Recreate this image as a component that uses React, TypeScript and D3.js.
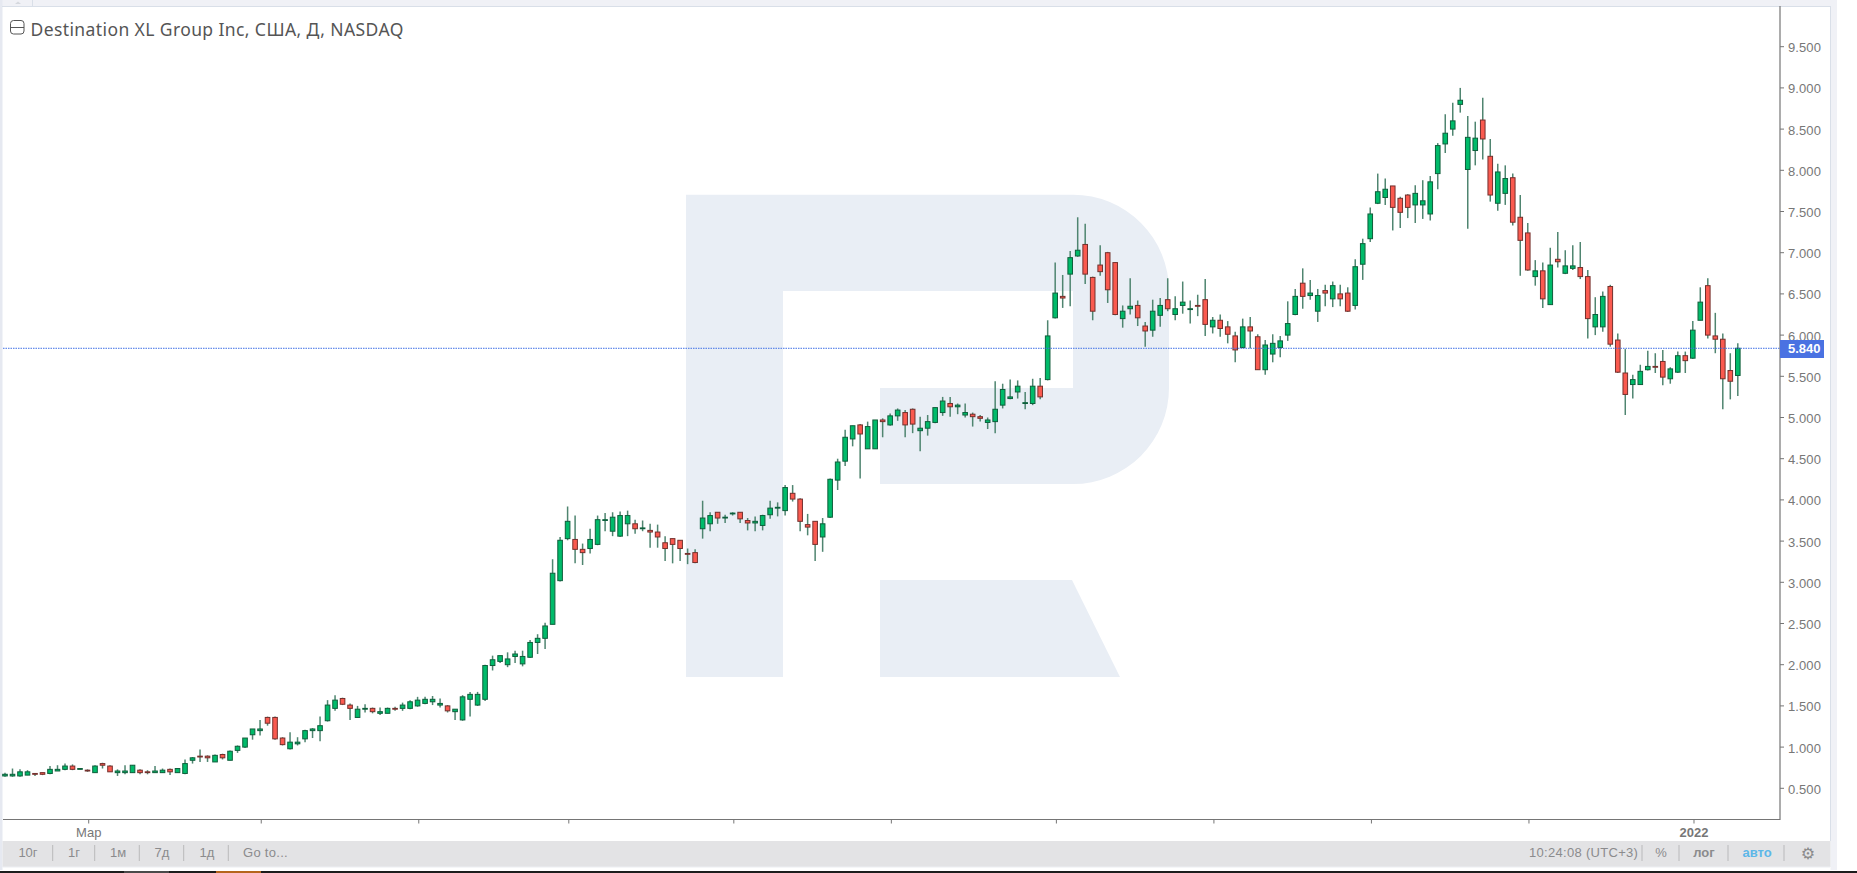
import React from 'react';
import * as d3 from 'd3';

const opens = [
  .65,.65,.65,.66,.68,.69,.68,.71,.73,.77,
  .73,.72,.69,.80,.77,.69,.69,.69,.72,.70,
  .69,.69,.73,.69,.68,.84,.89,.89,.82,.91,
  .84,.96,1.00,1.15,1.20,1.36,1.36,1.11,.98,1.04,
  1.10,1.20,1.20,1.32,1.47,1.59,1.51,1.36,1.46,1.47,
  1.41,1.41,1.47,1.47,1.47,1.50,1.53,1.55,1.51,1.50,
  1.43,1.33,1.58,1.51,1.58,1.99,2.04,2.00,2.10,2.01,
  2.09,2.27,2.32,2.49,3.02,3.53,3.52,3.40,3.41,3.46,
  3.75,3.62,3.56,3.71,3.71,3.65,3.63,3.61,3.48,3.53,
  3.51,3.35,3.36,3.65,3.71,3.85,3.78,3.83,3.85,3.75,
  3.72,3.69,3.82,3.90,3.87,4.08,4.01,3.70,3.74,3.55,
  3.79,4.24,4.47,4.74,4.91,4.62,4.62,4.97,4.91,5.02,
  5.06,5.10,4.84,4.87,4.94,5.06,5.17,5.13,5.03,5.04,
  5.01,4.94,4.95,5.15,5.23,5.31,5.17,5.17,5.38,5.46,
  6.21,6.47,6.74,6.96,7.10,6.70,6.85,7.00,6.88,6.20,
  6.32,6.36,6.11,6.06,6.24,6.43,6.25,6.36,6.31,6.36,
  6.43,6.10,6.18,6.10,5.99,5.85,6.10,5.98,5.58,5.77,
  5.85,6.00,6.25,6.63,6.48,6.29,6.54,6.44,6.50,6.51,
  6.36,6.86,7.17,7.60,7.67,7.81,7.66,7.70,7.58,7.58,
  7.47,7.96,8.32,8.50,8.80,8.01,8.24,8.61,8.17,7.60,
  7.72,7.91,7.43,7.24,6.71,6.78,6.37,6.92,6.75,6.81,
  6.82,6.71,6.10,6.10,6.59,5.94,5.54,5.40,5.40,5.58,
  5.62,5.68,5.47,5.55,5.75,5.72,6.18,6.60,5.99,5.95,
  5.57,5.51,
];

const highs = [
  .69,.74,.73,.72,.68,.69,.77,.78,.80,.79,
  .74,.73,.78,.81,.78,.73,.78,.78,.73,.72,
  .77,.74,.74,.74,.85,.88,.97,.90,.91,.92,
  .96,1.02,1.11,1.22,1.33,1.37,1.37,1.12,1.18,1.12,
  1.21,1.23,1.37,1.57,1.63,1.60,1.53,1.50,1.52,1.48,
  1.48,1.48,1.49,1.54,1.57,1.61,1.61,1.62,1.59,1.51,
  1.46,1.63,1.67,1.67,2.00,2.11,2.11,2.15,2.17,2.17,
  2.30,2.37,2.51,3.28,3.55,3.92,3.81,3.47,3.65,3.81,
  3.84,3.85,3.86,3.87,3.76,3.75,3.71,3.70,3.56,3.53,
  3.51,3.41,3.40,3.99,3.85,3.85,3.82,3.85,3.85,3.78,
  3.80,3.82,3.99,3.97,4.18,4.18,4.02,3.83,3.74,3.78,
  4.26,4.50,4.85,4.90,4.92,4.95,4.97,4.99,5.05,5.11,
  5.09,5.11,5.01,5.03,5.12,5.25,5.25,5.17,5.17,5.06,
  5.03,5.00,5.44,5.41,5.46,5.45,5.31,5.47,5.48,6.18,
  6.88,6.73,7.02,7.43,7.35,6.71,7.09,7.01,6.88,6.36,
  6.69,6.42,6.16,6.43,6.45,6.69,6.47,6.65,6.42,6.49,
  6.68,6.22,6.25,6.17,6.04,6.20,6.22,6.01,5.94,6.01,
  5.99,6.41,6.56,6.81,6.67,6.56,6.61,6.65,6.61,6.58,
  6.92,7.17,7.55,7.96,7.90,7.81,7.68,7.71,7.82,7.88,
  7.93,8.33,8.68,8.82,9.00,8.66,8.59,8.88,8.38,8.08,
  8.06,7.96,7.70,7.36,6.91,6.88,7.06,7.25,7.03,7.09,
  7.13,6.79,6.46,6.53,6.61,6.02,5.83,5.52,5.64,5.81,
  5.78,5.82,5.61,5.80,5.80,6.17,6.58,6.69,6.27,6.02,
  5.78,5.90,
];

const lows = [
  .64,.64,.64,.66,.65,.66,.67,.71,.72,.72,
  .73,.70,.69,.74,.70,.65,.67,.69,.67,.67,
  .69,.69,.66,.69,.67,.80,.82,.82,.82,.85,
  .84,.93,.99,1.09,1.14,1.26,1.09,1.02,.97,1.02,
  1.06,1.11,1.07,1.31,1.44,1.51,1.33,1.36,1.42,1.41,
  1.39,1.41,1.44,1.44,1.46,1.49,1.52,1.51,1.48,1.42,
  1.33,1.32,1.37,1.50,1.56,1.93,2.02,1.97,2.02,1.98,
  2.08,2.13,2.19,2.49,3.01,3.51,3.23,3.21,3.35,3.45,
  3.62,3.56,3.55,3.56,3.59,3.62,3.42,3.42,3.26,3.23,
  3.26,3.22,3.23,3.53,3.62,3.71,3.72,3.81,3.72,3.63,
  3.62,3.63,3.77,3.80,3.81,3.98,3.62,3.57,3.26,3.37,
  3.78,4.12,4.41,4.65,4.26,4.62,4.62,4.76,4.90,4.96,
  4.76,4.81,4.59,4.78,4.93,5.02,5.01,5.04,5.00,4.89,
  4.95,4.86,4.81,5.11,5.22,5.23,5.10,5.15,5.22,5.45,
  6.20,6.33,6.35,6.95,6.62,6.18,6.72,6.39,6.24,6.09,
  6.25,6.11,5.86,5.98,6.10,6.29,6.18,6.26,6.14,6.23,
  5.99,6.02,5.98,5.90,5.67,5.84,5.84,5.58,5.52,5.67,
  5.73,5.93,6.24,6.32,6.43,6.16,6.35,6.34,6.35,6.28,
  6.31,6.67,7.13,7.59,7.58,7.27,7.30,7.42,7.36,7.41,
  7.39,7.77,8.21,8.42,8.70,7.29,8.06,8.13,7.62,7.51,
  7.58,7.33,6.72,6.78,6.60,6.33,6.37,6.82,6.74,6.79,
  6.68,5.96,6.00,6.04,5.86,5.54,5.03,5.23,5.40,5.57,
  5.54,5.39,5.41,5.54,5.54,5.71,6.18,5.96,5.78,5.10,
  5.22,5.26,
];

const closes = [
  .67,.67,.70,.70,.67,.67,.73,.73,.77,.73,
  .74,.71,.77,.78,.70,.71,.71,.78,.69,.69,
  .71,.72,.70,.74,.80,.87,.88,.87,.90,.87,
  .95,1.01,1.11,1.22,1.22,1.29,1.10,1.03,1.06,1.06,
  1.20,1.22,1.26,1.51,1.57,1.52,1.47,1.46,1.47,1.43,
  1.43,1.47,1.46,1.51,1.55,1.57,1.58,1.58,1.53,1.44,
  1.46,1.61,1.64,1.64,1.99,2.06,2.11,2.07,2.13,2.10,
  2.27,2.32,2.47,3.11,3.51,3.74,3.40,3.36,3.52,3.76,
  3.76,3.79,3.81,3.81,3.65,3.66,3.61,3.55,3.41,3.46,
  3.41,3.34,3.24,3.78,3.81,3.78,3.79,3.84,3.77,3.72,
  3.74,3.81,3.90,3.91,4.15,4.01,3.74,3.67,3.46,3.71,
  4.25,4.46,4.76,4.90,4.80,4.89,4.97,4.95,5.02,5.09,
  4.91,4.92,4.87,4.95,5.12,5.20,5.13,5.15,5.06,5.01,
  4.99,4.97,5.10,5.34,5.25,5.38,5.18,5.38,5.25,5.99,
  6.51,6.45,6.94,7.03,6.74,6.29,6.77,6.55,6.25,6.29,
  6.35,6.21,6.05,6.29,6.36,6.32,6.32,6.40,6.32,6.35,
  6.13,6.18,6.08,6.01,5.82,6.10,6.05,5.58,5.88,5.90,
  5.93,6.14,6.47,6.47,6.51,6.48,6.51,6.60,6.44,6.29,
  6.83,7.11,7.47,7.74,7.77,7.55,7.49,7.55,7.72,7.63,
  7.86,8.30,8.45,8.60,8.85,8.40,8.39,8.38,7.70,7.98,
  7.90,7.37,7.15,6.79,6.78,6.44,6.85,6.89,6.84,6.84,
  6.71,6.20,6.25,6.47,5.89,5.55,5.28,5.46,5.56,5.62,
  5.61,5.49,5.59,5.75,5.69,6.06,6.40,6.00,5.95,5.47,
  5.44,5.84,
];

const LAST_PRICE = 5.84;
const priceTicks = [0.5, 1, 1.5, 2, 2.5, 3, 3.5, 4, 4.5, 5, 5.5, 6, 6.5, 7, 7.5, 8, 8.5, 9, 9.5];
// month starts, as candle index
const monthTicks = [11, 34, 55, 75, 97, 118, 140, 161, 182, 203, 225];
const monthLabels = ['Мар', '', '', '', '', '', '', '', '', '', '2022'];
const rangeButtons = ['10г', '1г', '1м', '7д', '1д'];

const W = 1857;
const H = 873;
const AXIS_X = 1780;
const AXIS_Y = 819.5;

const SANS = '"Liberation Sans", Arial, sans-serif';

const x = d3.scaleLinear().domain([0, opens.length - 1]).range([5, 1737.8]);
const y = d3.scaleLinear().domain([0.5, 9.5]).range([788.3, 46.7]);
const fmt = d3.format('.3f');

const Logo: React.FC = () => (
  <g fill="#e9eef5">
    <path d="M686,194.7 H1073 A96,96 0 0 1 1169,291 V388 A96,96 0 0 1 1073,484 H880 V388 H1073 V291 H783 V677 H686 Z" />
    <path d="M880,580 H1072 L1120,677 H880 Z" />
  </g>
);

const Candles: React.FC = () => (
  <g filter="url(#soft)">
    {opens.map((o, i) => {
      const c = closes[i];
      const up = c >= o;
      const top = y(Math.max(o, c));
      const bottom = y(Math.min(o, c));
      return (
        <g key={i}>
          <line x1={x(i)} x2={x(i)} y1={y(highs[i])} y2={y(lows[i])} stroke="#4f8570" strokeWidth={1.5} />
          <rect
            x={x(i) - 2.3}
            y={top}
            width={4.6}
            height={Math.max(bottom - top, 0.8)}
            fill={up ? '#00bb6a' : '#fa5a50'}
            stroke={up ? '#0f5f3c' : '#74302d'}
            strokeWidth={1}
          />
        </g>
      );
    })}
  </g>
);

export default function App() {
  const sep = (px: number, key: string) => (
    <line key={key} x1={px} x2={px} y1={845} y2={861} stroke="#b9b9bb" strokeWidth={1} />
  );

  return (
    <svg width={W} height={H} style={{ position: 'fixed', left: 0, top: 0, background: '#fff' }} fontFamily={SANS}>
      <defs>
        <filter id="soft" x="-2%" y="-2%" width="104%" height="104%">
          <feGaussianBlur stdDeviation="0.35" />
        </filter>
      </defs>

      {/* frame */}
      <rect x={0} y={0} width={1837} height={6} fill="#f0f1f6" />
      <rect x={0} y={0} width={2.5} height={870} fill="#e6e9f1" />
      <rect x={1830.5} y={0} width={6.5} height={870} fill="#f0f1f6" />
      <line x1={2} x2={1831} y1={6.5} y2={6.5} stroke="#d9dfe8" />
      <line x1={1830.5} x2={1830.5} y1={6} y2={841} stroke="#d9dfe8" />
      <line x1={32.5} x2={32.5} y1={0} y2={6} stroke="#d9dfe8" />
      <path d="M15,4 L18,1.5 L21,4 Z" fill="#d5d8de" />

      <Logo />
      <Candles />

      {/* last price */}
      <line x1={3} x2={AXIS_X} y1={y(LAST_PRICE)} y2={y(LAST_PRICE)} stroke="#3f6fe6" strokeWidth={1} strokeDasharray="1.5,1" />

      {/* price axis */}
      <line x1={AXIS_X} x2={AXIS_X} y1={6} y2={AXIS_Y + 0.5} stroke="#757575" strokeWidth={1.2} />
      {priceTicks.map(t => (
        <g key={t}>
          <line x1={AXIS_X} x2={AXIS_X + 4} y1={y(t)} y2={y(t)} stroke="#757575" />
          <text x={1788} y={y(t) + 5.4} fontSize={13} fill="#777" letterSpacing={0.1}>{fmt(t)}</text>
        </g>
      ))}
      <rect x={AXIS_X} y={340} width={44} height={18} fill="#4a72e2" />
      <text x={1788} y={y(LAST_PRICE) + 5} fontSize={13} fontWeight={700} fill="#fff">{fmt(LAST_PRICE)}</text>

      {/* time axis */}
      <line x1={3} x2={AXIS_X} y1={AXIS_Y} y2={AXIS_Y} stroke="#757575" strokeWidth={1.2} />
      {monthTicks.map((t, i) => (
        <g key={t}>
          <line x1={x(t) + 1.2} x2={x(t) + 1.2} y1={AXIS_Y} y2={AXIS_Y + 4} stroke="#757575" />
          <text
            x={x(t) + 1.2}
            y={836.5}
            textAnchor="middle"
            fontSize={13}
            fontWeight={monthLabels[i] === '2022' ? 700 : 400}
            fill="#777"
          >
            {monthLabels[i]}
          </text>
        </g>
      ))}

      {/* title */}
      <rect x={10.5} y={20.5} width={13.5} height={13.5} rx={3} fill="none" stroke="#555" strokeWidth={1} />
      <line x1={10.5} x2={24} y1={27.5} y2={27.5} stroke="#555" />
      <text x={30.5} y={35.5} fontFamily='"Noto Sans", sans-serif' fontSize={17.5} letterSpacing={0.4} fill="#555">
        Destination XL Group Inc, США, Д, NASDAQ
      </text>

      {/* bottom toolbar */}
      <rect x={2.5} y={841} width={1828} height={26} fill="#e3e3e5" />
      <line x1={2.5} x2={1830} y1={867} y2={867} stroke="#eceef2" />
      {rangeButtons.map((b, i) => (
        <text key={b} x={[28, 74, 118, 162, 207][i]} y={857} textAnchor="middle" fontSize={13} fill="#8b8b8d">{b}</text>
      ))}
      <text x={243} y={857} fontSize={13} fill="#8b8b8d" letterSpacing={0.3}>Go to...</text>
      {[52.7, 94.7, 139.3, 183.7, 228.3].map((p, i) => sep(p, `l${i}`))}

      <text x={1529} y={857} fontSize={13} fill="#8b8b8d" letterSpacing={0.3}>10:24:08 (UTC+3)</text>
      <text x={1661} y={857} textAnchor="middle" fontSize={13} fill="#8b8b8d">%</text>
      <text x={1704} y={857} textAnchor="middle" fontSize={13} fontWeight={700} fill="#8b8b8d">лог</text>
      <text x={1757} y={857} textAnchor="middle" fontSize={13} fontWeight={700} fill="#5db7e8">авто</text>
      <text x={1808} y={859} textAnchor="middle" fontFamily='"DejaVu Sans", sans-serif' fontSize={16} fill="#8b8b8d">⚙</text>
      {[1642, 1679, 1728, 1784].map((p, i) => sep(p, `r${i}`))}

      {/* strip at the bottom of the screenshot */}
      <rect x={0} y={871} width={W} height={2} fill="#1c1c1c" />
      <rect x={124} y={871} width={45} height={2} fill="#4a4a4a" />
      <rect x={216} y={871} width={45} height={2} fill="#b5651d" />
    </svg>
  );
}
